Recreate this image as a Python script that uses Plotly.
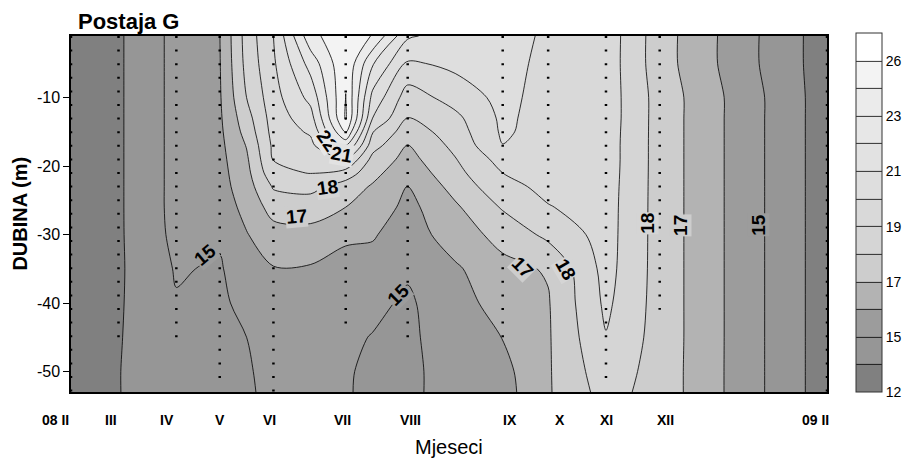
import numpy as np
import plotly.graph_objects as go

# --- Data ------------------------------------------------------------------
# sampling cruises (days after the Feb 2008 cruise) and the deepest sample
months = ["08 II", "III", "IV", "V", "VI", "VII", "VIII", "IX", "X", "XI", "XII", "09 II"]
sample_day = [0, 23, 51, 72, 98, 133, 163, 209, 231, 259, 285, 366]
sample_maxdepth = [53, 46, 45, 51, 53, 44, 45, 46, 35, 51, 41, 53]

# gridded temperature field (degC)
depth = [1, 5, 10, 13, 15, 17, 19, 21, 23, 26, 30, 35, 40, 45, 50, 53]
grid_day = [0, 23, 51, 72, 85, 98, 116, 133, 146, 163, 186, 209, 231, 259, 285, 325, 366]

t_d000 = [12.9] * 16
t_d023 = [13.3, 13.3, 13.3, 13.3, 13.3, 13.3, 13.3, 13.3, 13.3, 13.3, 13.3, 13.3, 13.35, 13.4, 13.45, 13.45]
t_d051 = [15.3, 15.3, 15.3, 15.3, 15.3, 15.3, 15.3, 15.3, 15.3, 15.3, 15.25, 15.08, 14.9, 14.8, 14.7, 14.65]
t_d072 = [15.98, 15.95, 15.9, 15.85, 15.8, 15.75, 15.7, 15.65, 15.6, 15.45, 15.15, 14.85, 14.7, 14.6, 14.55, 14.5]
t_d085 = [18.4, 18.3, 18.0, 17.6, 17.35, 17.05, 16.85, 16.7, 16.55, 16.3, 15.95, 15.6, 15.3, 15.0, 14.85, 14.8]
t_d098 = [20.0, 19.85, 19.6, 19.45, 19.35, 19.2, 19.05, 18.7, 18.1, 17.4, 16.6, 15.95, 15.7, 15.5, 15.3, 15.25]
t_d116 = [24.0, 22.4, 21.3, 20.6, 20.15, 19.7, 19.4, 19.05, 18.3, 17.45, 16.7, 15.9, 15.55, 15.35, 15.2, 15.15]
t_d133 = [25.7, 25.85, 26.02, 26.15, 24.6, 22.2, 20.1, 18.6, 17.5, 17.0, 16.2, 15.6, 15.3, 15.15, 15.05, 15.05]
t_d146 = [24.4, 22.1, 20.7, 20.0, 19.05, 18.4, 17.7, 17.3, 16.9, 16.65, 16.1, 15.6, 15.2, 14.95, 14.85, 14.8]
t_d163 = [21.15, 19.85, 18.5, 17.95, 17.45, 16.98, 16.65, 16.3, 15.97, 15.7, 15.45, 15.12, 14.8, 14.7, 14.65, 14.65]
t_d186 = [20.5, 20.25, 19.4, 18.75, 18.5, 18.25, 17.95, 17.7, 17.35, 16.85, 16.55, 15.85, 15.6, 15.55, 15.45, 15.45]
t_d209 = [20.45, 20.4, 20.3, 20.2, 20.15, 19.98, 19.4, 19.0, 18.7, 18.1, 17.3, 16.75, 16.4, 16.02, 15.7, 15.6]
t_d231 = [19.82, 19.7, 19.6, 19.6, 19.58, 19.5, 19.45, 19.35, 19.25, 18.95, 18.25, 17.08, 16.93, 16.9, 16.9, 16.9]
t_d259 = [19.58, 19.56, 19.55, 19.55, 19.52, 19.5, 19.5, 19.48, 19.45, 19.42, 19.4, 19.35, 19.2, 18.95, 18.6, 18.4]
t_d285 = [17.45, 17.45, 17.6, 17.6, 17.6, 17.6, 17.6, 17.6, 17.6, 17.6, 17.6, 17.6, 17.6, 17.6, 17.58, 17.58]
t_d325 = [15.38, 15.38, 15.55, 15.55, 15.55, 15.55, 15.55, 15.55, 15.55, 15.55, 15.55, 15.55, 15.55, 15.55, 15.55, 15.55]
t_d366 = [12.7] * 16

# contour levels (class boundaries) and their grey fills, low -> high
levels = [12, 13.5, 15, 16, 17, 18, 19, 20, 21, 22, 23, 24.5, 26, 27.5]
band_colors = ["#808080", "#969696", "#9c9c9c", "#b3b3b3", "#cdcdcd", "#d5d5d5", "#d9d9d9",
               "#dedede", "#e2e2e2", "#e7e7e7", "#ebebeb", "#f3f3f3", "#ffffff"]

# in-map contour labels: value, day, depth, rotation
lab_value = [15, 22, 21, 18, 17, 15, 17, 18, 18, 17, 15]
lab_day = [65, 124, 131, 124, 109, 158.5, 218.7, 239.5, 279.3, 295.3, 333]
lab_depth = [32.9, 16.2, 18.3, 23.2, 27.3, 38.7, 34.8, 35.1, 28.3, 28.6, 28.6]
lab_angle = [-40, 55, 10, -8, -5, -45, 45, 60, -90, -90, -90]

# month label nudges (px) as placed on the original figure
month_shift = [-16, -8, -9, 0, -4, -3, 3, 7, 12, 1, 6, -12]

depth_ticks = [-10, -20, -30, -40, -50]

# --- Build ----------------------------------------------------------------
z = np.column_stack([t_d000, t_d023, t_d051, t_d072, t_d085, t_d098, t_d116, t_d133,
                     t_d146, t_d163, t_d186, t_d209, t_d231, t_d259, t_d285, t_d325, t_d366])
# unequal class widths -> map onto equal steps so every class is one band
lev_idx = np.arange(len(levels))
z_idx = np.interp(z, levels, lev_idx)
n_band = len(band_colors)
colorscale = [[k / (n_band - 1), c] for k, c in enumerate(band_colors)]

font = "Liberation Sans, Arial, sans-serif"
fig = go.Figure()

fig.add_trace(go.Contour(
    x=grid_day,
    y=[-d for d in depth],
    z=z_idx,
    zmin=0, zmax=n_band,
    autocontour=False,
    contours=dict(start=1, end=n_band - 1, size=1, coloring="fill", showlines=True),
    line=dict(color="black", width=0.8, smoothing=0.9),
    colorscale=colorscale,
    hoverinfo="skip",
    colorbar=dict(
        thickness=26, len=359, lenmode="pixels",
        x=1.039, xanchor="left", xpad=0, y=0.503, yanchor="middle", ypad=0,
        outlinecolor="#333333", outlinewidth=1,
        tickvals=lev_idx[::2].tolist(), ticktext=[f"{v:g}" for v in levels[::2]],
        ticks="", tickfont=dict(family=font, size=14, color="black"),
    ),
))

# sampling profiles as dotted verticals
sx, sy = [], []
for d, m in zip(sample_day, sample_maxdepth):
    sx += [d, d, None]
    sy += [-1, -m, None]
fig.add_trace(go.Scatter(x=sx, y=sy, mode="lines", hoverinfo="skip", showlegend=False,
                         line=dict(color="black", width=2.5, dash="2px,11.6px")))

for v, d, dep, a in zip(lab_value, lab_day, lab_depth, lab_angle):
    bg = band_colors[min(int(np.interp(v, levels, lev_idx)), n_band - 1)]
    fig.add_annotation(x=d, y=-dep, text=f"<b>{v}</b>", textangle=a, showarrow=False,
                       xanchor="center", yanchor="middle", bgcolor=bg, borderpad=0,
                       font=dict(family=font, size=19, color="black"))

for name, d, s in zip(months, sample_day, month_shift):
    fig.add_annotation(x=d, xref="x", y=-0.08, yref="paper", xanchor="center", yanchor="middle",
                       text=f"<b>{name}</b>", showarrow=False, xshift=s,
                       font=dict(family=font, size=14, color="black"))

fig.add_annotation(x=0.5, y=-0.155, xref="paper", yref="paper", xanchor="center",
                   yanchor="middle", text="Mjeseci", showarrow=False,
                   font=dict(family=font, size=20, color="black"))
fig.add_annotation(x=-0.068, y=0.5, xref="paper", yref="paper", xanchor="center",
                   yanchor="middle", text="<b>DUBINA (m)</b>", textangle=-90, showarrow=False,
                   font=dict(family=font, size=20, color="black"))
fig.add_annotation(x=0.006, y=1.0, xref="paper", yref="paper", xanchor="left", yanchor="bottom",
                   text="<b>Postaja G</b>", showarrow=False,
                   font=dict(family=font, size=22, color="black"))

fig.update_layout(
    width=907, height=463,
    # fixed margins: keep the colour bar from squeezing the plot area
    margin=dict(l=71, r=80, t=36, b=71, autoexpand=False),
    paper_bgcolor="white", plot_bgcolor="white",
    showlegend=False,
    xaxis=dict(range=[0, 366], showgrid=False, zeroline=False, showticklabels=False,
               showline=True, mirror=True, linecolor="black", linewidth=1.5, ticks=""),
    yaxis=dict(range=[-53, -1], showgrid=False, zeroline=False,
               tickvals=depth_ticks, ticktext=[str(t) for t in depth_ticks],
               ticks="outside", ticklen=6, tickcolor="black",
               showline=True, mirror=True, linecolor="black", linewidth=1.5,
               tickfont=dict(family=font, size=16, color="black")),
)

# drop the browser's default 8px body margin so the figure sits at the page origin
fig.write_html("out.html", config={"displayModeBar": False},
               post_script="document.body.style.margin = '0px';")
